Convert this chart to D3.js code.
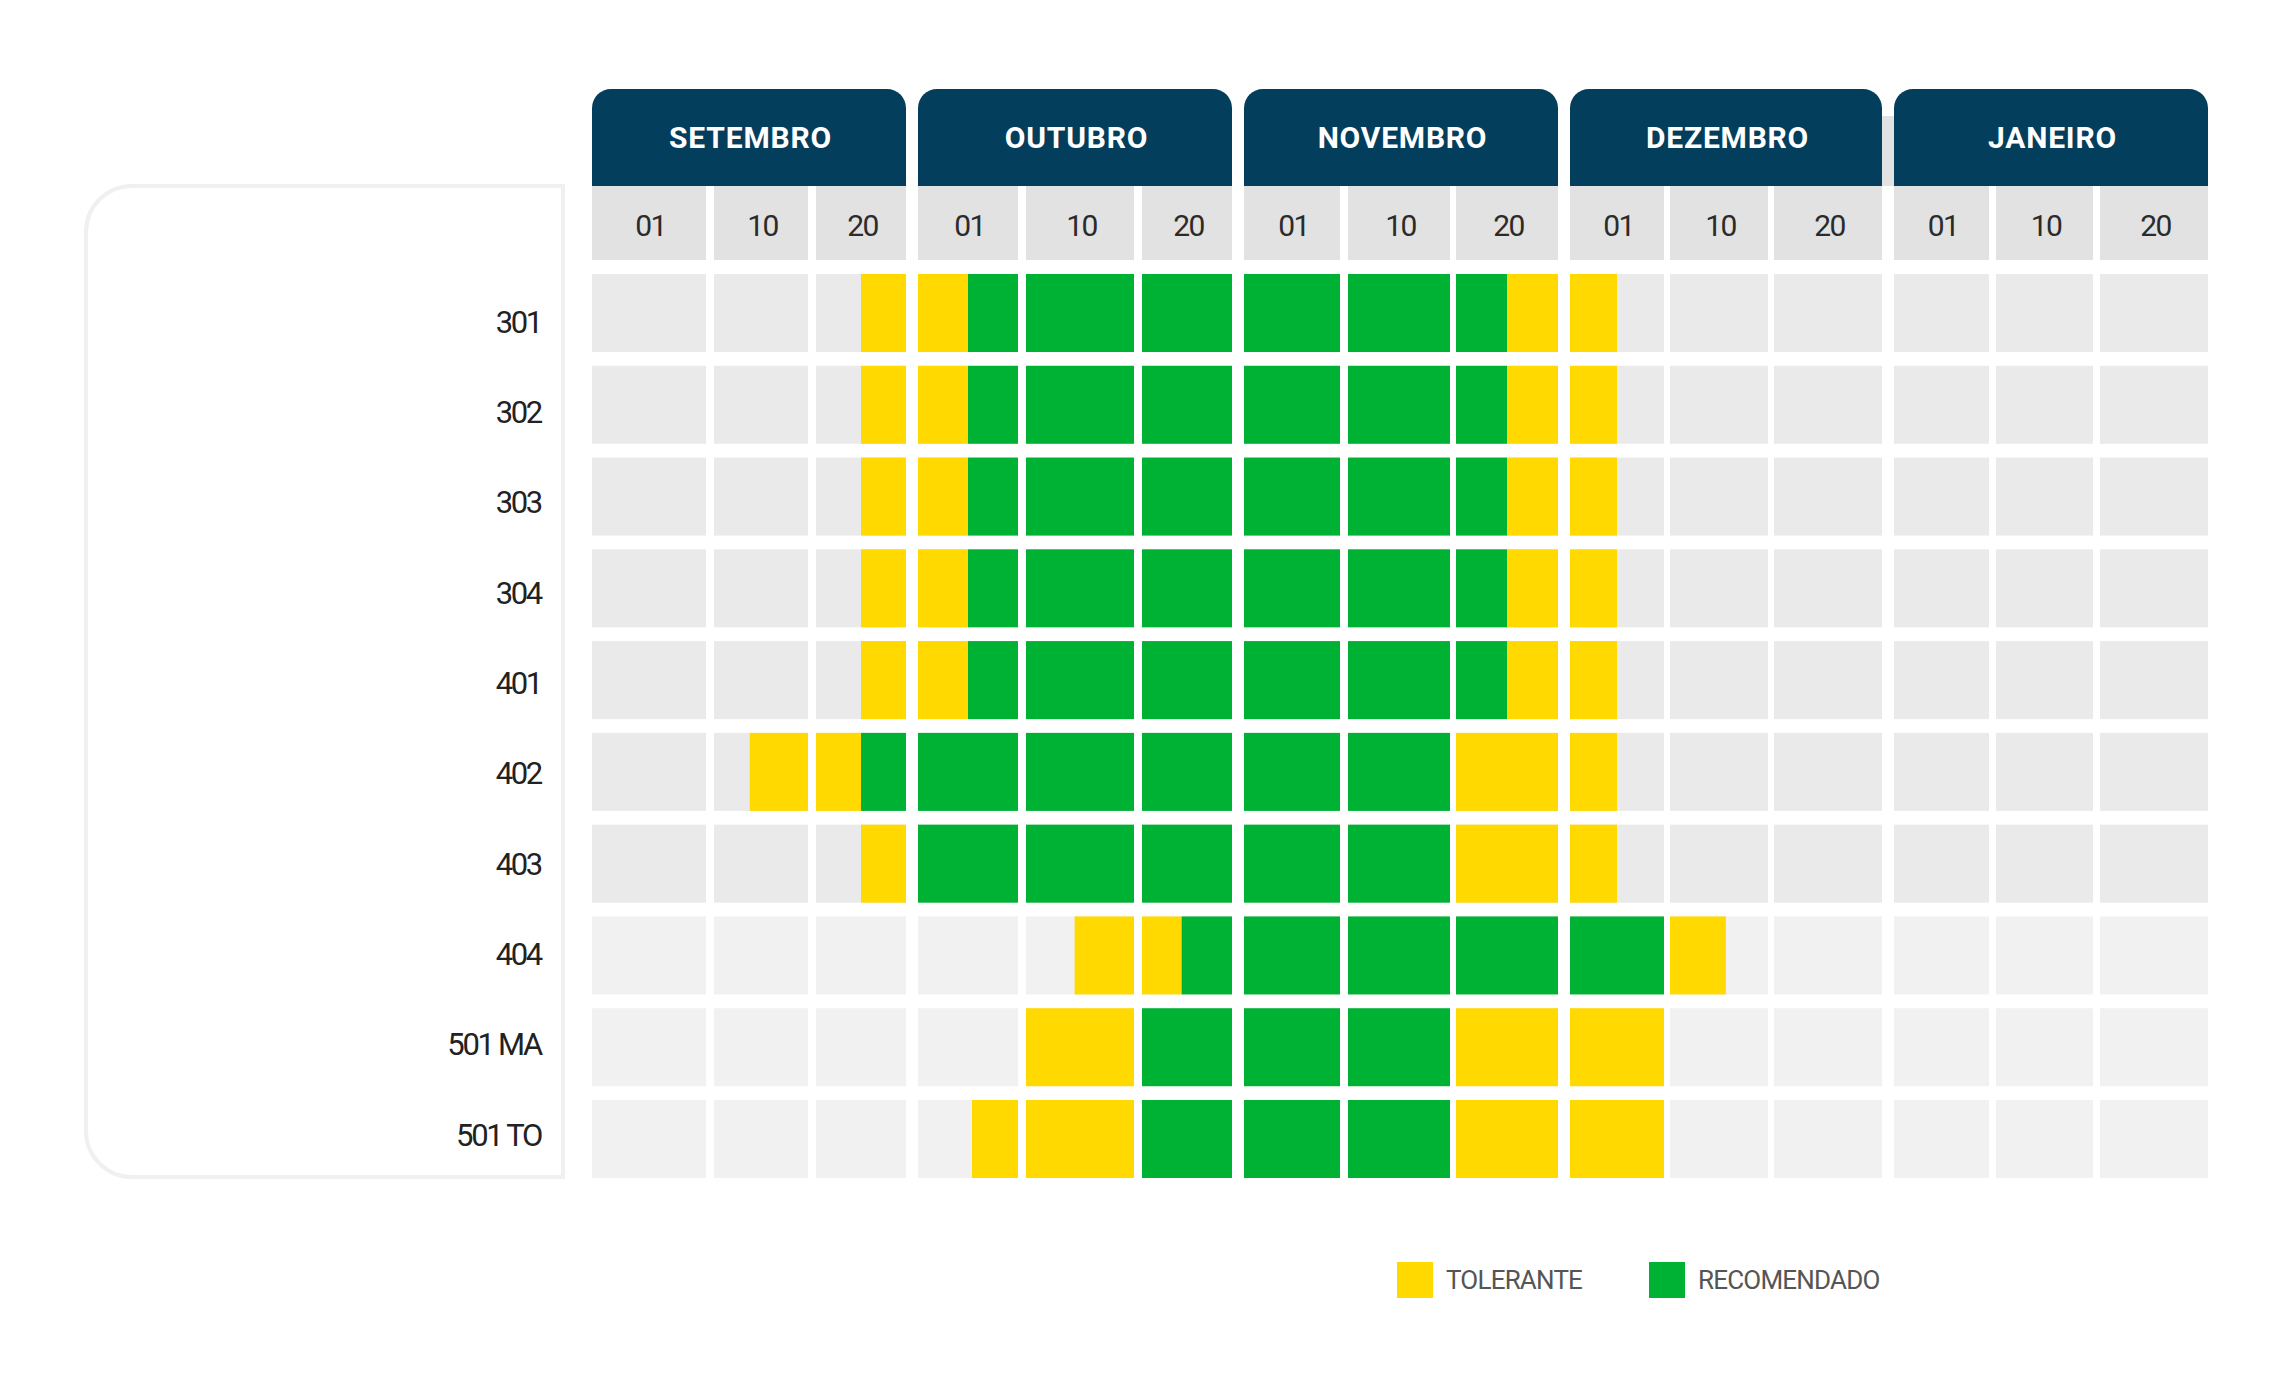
<!DOCTYPE html>
<html>
<head>
<meta charset="utf-8">
<script src="https://cdn.jsdelivr.net/npm/d3@7"></script>
<style>
  html, body { margin: 0; padding: 0; background: #ffffff; }
  svg { display: block; font-family: Roboto, "Noto Sans", sans-serif; }
</style>
</head>
<body>
<svg id="chart" width="2288" height="1398"></svg>
<script>
// ---------- DATA ----------
const months = ["SETEMBRO", "OUTUBRO", "NOVEMBRO", "DEZEMBRO", "JANEIRO"];
const days = ["01", "10", "20"];
const rows = ["301", "302", "303", "304", "401", "402", "403", "404", "501 MA", "501 TO"];
// periods in sub-period units: 0 = SET 01, 1 = SET 10, ... 14 = JAN 20 (fractions = part of a period)
const tolerante = [
  [[2.5, 3.5], [8.5, 9.5]],
  [[2.5, 3.5], [8.5, 9.5]],
  [[2.5, 3.5], [8.5, 9.5]],
  [[2.5, 3.5], [8.5, 9.5]],
  [[2.5, 3.5], [8.5, 9.5]],
  [[1.38, 2.5], [8, 9.5]],
  [[2.5, 3], [8, 9.5]],
  [[4.45, 5.44], [10, 10.57]],
  [[4, 5], [8, 10]],
  [[3.54, 5], [8, 10]]
];
const recomendado = [
  [[3.5, 8.5]],
  [[3.5, 8.5]],
  [[3.5, 8.5]],
  [[3.5, 8.5]],
  [[3.5, 8.5]],
  [[2.5, 8]],
  [[3, 8]],
  [[5.44, 10]],
  [[5, 8]],
  [[5, 8]]
];
const legendLabels = ["TOLERANTE", "RECOMENDADO"];
const lightRows = ["404", "501 MA", "501 TO"];

// ---------- LAYOUT ----------
const colEdges = [
  [592, 706], [714, 808], [816, 906],
  [918, 1018], [1026, 1134], [1142, 1232],
  [1244, 1340], [1348, 1450], [1456, 1558],
  [1570, 1664], [1670, 1768], [1774, 1882],
  [1894, 1989], [1996, 2093], [2100, 2208]
];
const colors = {
  header: "#033e5c",
  sub: "#e2e2e2",
  cell: "#eaeaea",
  cellLight: "#f0f1f0",
  tol: "#ffd900",
  rec: "#00b233",
  panel: "#f0f0f0"
};

const svg = d3.select("#chart");

// x mapping from sub-period units to pixels (piecewise, per period cell)
const colScales = colEdges.map((e, i) => d3.scaleLinear().domain([i, i + 1]).range(e));

// y band for rows
const y = d3.scaleBand().domain(rows).range([274, 1178]).paddingInner(0.15).paddingOuter(0);
// label positions
const yLabel = d3.scalePoint().domain(rows).range([322, 1135]);

// ---------- LEFT PANEL ----------
{
  const x0 = 86, x1 = 563, y0 = 186, y1 = 1177, r = 46;
  const p = d3.path();
  p.moveTo(x1, y0);
  p.lineTo(x0 + r, y0);
  p.arcTo(x0, y0, x0, y0 + r, r);
  p.lineTo(x0, y1 - r);
  p.arcTo(x0, y1, x0 + r, y1, r);
  p.lineTo(x1, y1);
  p.closePath();
  svg.append("path").attr("d", p.toString())
    .attr("fill", "#ffffff").attr("stroke", colors.panel).attr("stroke-width", 4);
}

// small grey strip between Dec and Jan headers
svg.append("rect").attr("x", colEdges[11][1]).attr("y", 116)
  .attr("width", colEdges[12][0] - colEdges[11][1]).attr("height", 186 - 116)
  .attr("fill", colors.sub);

// ---------- MONTH HEADERS ----------
const headTop = 89, headBot = 186, hr = 19;
months.forEach((m, i) => {
  const x0 = colEdges[i * 3][0], x1 = colEdges[i * 3 + 2][1];
  const p = d3.path();
  p.moveTo(x0, headBot);
  p.lineTo(x0, headTop + hr);
  p.arcTo(x0, headTop, x0 + hr, headTop, hr);
  p.lineTo(x1 - hr, headTop);
  p.arcTo(x1, headTop, x1, headTop + hr, hr);
  p.lineTo(x1, headBot);
  p.closePath();
  svg.append("path").attr("d", p.toString()).attr("fill", colors.header);
  svg.append("text")
    .attr("x", (x0 + x1) / 2 + 1.5).attr("y", (headTop + headBot) / 2)
    .attr("text-anchor", "middle").attr("dominant-baseline", "central")
    .attr("fill", "#ffffff").attr("font-size", 30).attr("font-weight", 700)
    .attr("letter-spacing", 0.8)
    .text(m);
});

// ---------- DAY SUB-HEADERS ----------
const subTop = 186, subBot = 260;
const subCols = d3.range(colEdges.length);
svg.selectAll("rect.sub").data(subCols).join("rect").attr("class", "sub")
  .attr("x", i => colEdges[i][0]).attr("y", subTop)
  .attr("width", i => colEdges[i][1] - colEdges[i][0]).attr("height", subBot - subTop)
  .attr("fill", colors.sub);
svg.selectAll("text.sub").data(subCols).join("text").attr("class", "sub")
  .attr("x", i => (colEdges[i][0] + colEdges[i][1]) / 2 + 1.5)
  .attr("y", (subTop + subBot) / 2 + 2)
  .attr("text-anchor", "middle").attr("dominant-baseline", "central")
  .attr("fill", "#2b2b2b").attr("font-size", 30).attr("letter-spacing", -1.5)
  .text(i => days[i % 3]);

// ---------- GRID BACKGROUND CELLS ----------
const cellData = [];
rows.forEach(r => subCols.forEach(c => cellData.push({ r, c })));
svg.selectAll("rect.bg").data(cellData).join("rect").attr("class", "bg")
  .attr("x", d => colEdges[d.c][0]).attr("y", d => y(d.r))
  .attr("width", d => colEdges[d.c][1] - colEdges[d.c][0]).attr("height", y.bandwidth())
  .attr("fill", d => lightRows.includes(d.r) ? colors.cellLight : colors.cell);

// ---------- COLOURED SEGMENTS (split per period cell) ----------
function pieces(series, type) {
  const out = [];
  series.forEach((segs, ri) => {
    segs.forEach(([s, e]) => {
      for (let c = Math.floor(s); c < Math.ceil(e); c++) {
        const a = Math.max(s, c), b = Math.min(e, c + 1);
        if (b > a) out.push({ row: rows[ri], a, b, c, type });
      }
    });
  });
  return out;
}
const segData = pieces(tolerante, "tol").concat(pieces(recomendado, "rec"));
svg.selectAll("rect.seg").data(segData).join("rect").attr("class", "seg")
  .attr("x", d => colScales[d.c](d.a)).attr("y", d => y(d.row))
  .attr("width", d => colScales[d.c](d.b) - colScales[d.c](d.a))
  .attr("height", y.bandwidth())
  .attr("fill", d => colors[d.type]);

// ---------- ROW LABELS ----------
svg.selectAll("text.rowlab").data(rows).join("text").attr("class", "rowlab")
  .attr("x", 541).attr("y", d => yLabel(d))
  .attr("text-anchor", "end").attr("dominant-baseline", "central")
  .attr("fill", "#222222").attr("font-size", 31).attr("letter-spacing", -2.3)
  .text(d => d);

// ---------- LEGEND ----------
const legendX = [1397, 1649];
const legendColors = [colors.tol, colors.rec];
legendLabels.forEach((lab, i) => {
  svg.append("rect").attr("x", legendX[i]).attr("y", 1262)
    .attr("width", 36).attr("height", 36).attr("fill", legendColors[i]);
  svg.append("text").attr("x", legendX[i] + 49).attr("y", 1280)
    .attr("dominant-baseline", "central")
    .attr("fill", "#555555").attr("font-size", 26).attr("letter-spacing", -0.8)
    .text(lab);
});
</script>
</body>
</html>
